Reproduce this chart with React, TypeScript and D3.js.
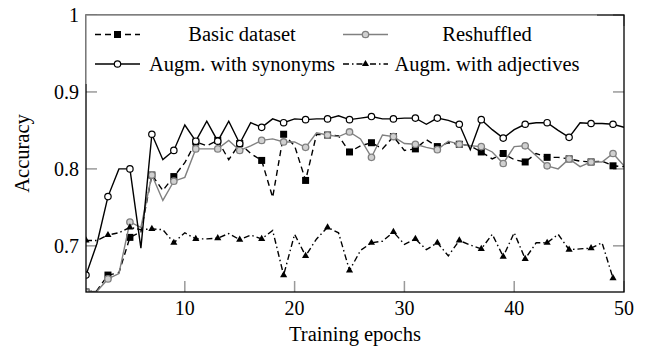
import React, { useEffect, useRef } from 'react'
import * as d3 from 'd3'

// epochs 1..50 (adjectives run stops at 49)
const epochs = [
	1, 2, 3, 4, 5, 6, 7, 8, 9, 10, 11, 12, 13, 14, 15, 16, 17, 18, 19, 20, 21, 22, 23, 24, 25,
	26, 27, 28, 29, 30, 31, 32, 33, 34, 35, 36, 37, 38, 39, 40, 41, 42, 43, 44, 45, 46, 47, 48, 49, 50,
]

const basic = [
	0.64, 0.642, 0.662, 0.665, 0.711, 0.718, 0.792, 0.772, 0.79, 0.808, 0.835, 0.83, 0.837, 0.812, 0.833,
	0.82, 0.811, 0.763, 0.845, 0.83, 0.785, 0.845, 0.844, 0.843, 0.822, 0.83, 0.834, 0.826, 0.842, 0.824,
	0.826, 0.838, 0.829, 0.834, 0.832, 0.83, 0.822, 0.813, 0.82, 0.812, 0.809, 0.82, 0.815, 0.815, 0.813,
	0.81, 0.809, 0.81, 0.804, 0.803,
]

const reshuffled = [
	0.64, 0.641, 0.657, 0.664, 0.731, 0.724, 0.792, 0.759, 0.784, 0.789, 0.826, 0.826, 0.826, 0.837, 0.824,
	0.83, 0.837, 0.839, 0.835, 0.835, 0.828, 0.847, 0.844, 0.842, 0.848, 0.839, 0.815, 0.844, 0.842, 0.833,
	0.832, 0.828, 0.825, 0.836, 0.832, 0.83, 0.829, 0.822, 0.807, 0.829, 0.83, 0.817, 0.804, 0.8, 0.813,
	0.803, 0.809, 0.809, 0.82, 0.804,
]

const synonyms = [
	0.662, 0.703, 0.764, 0.8, 0.8, 0.697, 0.845, 0.812, 0.824, 0.857, 0.836, 0.862, 0.836, 0.862, 0.833,
	0.86, 0.854, 0.865, 0.86, 0.865, 0.864, 0.865, 0.865, 0.869, 0.864, 0.866, 0.868, 0.865, 0.865, 0.866,
	0.866, 0.858, 0.866, 0.863, 0.858, 0.825, 0.864, 0.851, 0.84, 0.851, 0.858, 0.86, 0.86, 0.85, 0.841,
	0.86, 0.859, 0.859, 0.858, 0.854,
]

const adjectives = [
	0.707, 0.707, 0.714, 0.717, 0.724, 0.721, 0.722, 0.721, 0.704, 0.717, 0.709, 0.709, 0.71, 0.716, 0.708,
	0.714, 0.709, 0.72, 0.662, 0.715, 0.687, 0.709, 0.724, 0.717, 0.668, 0.694, 0.704, 0.706, 0.718, 0.702,
	0.709, 0.695, 0.704, 0.687, 0.707, 0.701, 0.696, 0.715, 0.686, 0.717, 0.683, 0.704, 0.704, 0.715, 0.695,
	0.696, 0.697, 0.704, 0.658,
]

const xTicks = [10, 20, 30, 40, 50]
const yTicks = [0.7, 0.8, 0.9, 1]

const legendNames = ['Basic dataset', 'Reshuffled', 'Augm. with synonyms', 'Augm. with adjectives']

const FONT = "'Liberation Serif', 'Times New Roman', Times, 'DejaVu Serif', serif"

type Series = {
	name: string
	values: number[]
	color: string
	dash: string | null
	marker: 'square' | 'circleGray' | 'circle' | 'triangle'
}

const series: Series[] = [
	{ name: legendNames[0], values: basic, color: '#000', dash: '6,4', marker: 'square' },
	{ name: legendNames[1], values: reshuffled, color: '#808080', dash: null, marker: 'circleGray' },
	{ name: legendNames[2], values: synonyms, color: '#000', dash: null, marker: 'circle' },
	{ name: legendNames[3], values: adjectives, color: '#000', dash: '6,3,1.5,3', marker: 'triangle' },
]

function drawMarker(g: any, kind: Series['marker'], x: number, y: number) {
	if (kind === 'square') {
		g.append('rect').attr('x', x - 3.5).attr('y', y - 3.5).attr('width', 7).attr('height', 7).attr('fill', '#000')
	} else if (kind === 'circleGray') {
		g.append('circle').attr('cx', x).attr('cy', y).attr('r', 3.2)
			.attr('fill', '#d0d0d0').attr('stroke', '#808080').attr('stroke-width', 1.3)
	} else if (kind === 'circle') {
		g.append('circle').attr('cx', x).attr('cy', y).attr('r', 3.2)
			.attr('fill', '#fff').attr('stroke', '#000').attr('stroke-width', 1.2)
	} else {
		const s = d3.symbol().type(d3.symbolTriangle).size(22)
		g.append('path').attr('d', s()).attr('transform', `translate(${x},${y})`).attr('fill', '#000')
	}
}

export default function App() {
	const ref = useRef<SVGSVGElement>(null)

	useEffect(() => {
		const svg = d3.select(ref.current)
		svg.selectAll('*').remove()

		const left = 86
		const right = 624
		const top = 15
		const bottom = 292

		const x = d3.scaleLinear().domain([1, 50]).range([left, right])
		const y = d3.scaleLinear().domain([0.64, 1]).range([bottom, top])

		svg.append('defs').append('clipPath').attr('id', 'plot-clip')
			.append('rect').attr('x', left).attr('y', top).attr('width', right - left).attr('height', bottom - top)

		// gray tick marks inside the frame
		const ticks = svg.append('g').attr('stroke', '#9a9a9a').attr('stroke-width', 1.5)
		xTicks.forEach((t) => {
			ticks.append('line').attr('x1', x(t)).attr('x2', x(t)).attr('y1', bottom).attr('y2', bottom - 11)
			ticks.append('line').attr('x1', x(t)).attr('x2', x(t)).attr('y1', top).attr('y2', top + 11)
		})
		yTicks.forEach((t) => {
			ticks.append('line').attr('x1', left).attr('x2', left + 11).attr('y1', y(t)).attr('y2', y(t))
			ticks.append('line').attr('x1', right).attr('x2', right - 11).attr('y1', y(t)).attr('y2', y(t))
		})

		// tick labels
		svg.append('g').selectAll('text').data(xTicks).enter().append('text')
			.attr('x', (d) => x(d)).attr('y', 315)
			.attr('text-anchor', 'middle').attr('font-size', 20)
			.text((d) => String(d))
		svg.append('g').selectAll('text').data(yTicks).enter().append('text')
			.attr('x', 79).attr('y', (d) => y(d) + 7)
			.attr('text-anchor', 'end').attr('font-size', 20)
			.text((d) => (d === 1 ? '1' : d.toFixed(1)))

		// data
		const plot = svg.append('g').attr('clip-path', 'url(#plot-clip)')
		series.forEach((s) => {
			const pts = s.values.map((v, i) => [epochs[i], v] as [number, number])
			const line = d3.line<[number, number]>().x((d) => x(d[0])).y((d) => y(d[1]))
			plot.append('path').attr('d', line(pts)).attr('fill', 'none')
				.attr('stroke', s.color).attr('stroke-width', 1.4)
				.attr('stroke-dasharray', s.dash)
			const mg = plot.append('g')
			pts.forEach((p, i) => {
				if (i % 2 === 0) drawMarker(mg, s.marker, x(p[0]), y(p[1]))
			})
		})

		// frame
		svg.append('rect').attr('x', left).attr('y', top).attr('width', right - left).attr('height', bottom - top)
			.attr('fill', 'none').attr('stroke', '#000').attr('stroke-width', 1.3)

		// legend: white box, only its top and left edges show
		const lg = svg.append('g')
		const lgRight = 597
		const lgBottom = 84
		lg.append('rect').attr('x', left).attr('y', top).attr('width', lgRight - left).attr('height', lgBottom - top)
			.attr('fill', '#fff')
		lg.append('path').attr('d', `M${left},${lgBottom}V${top}H${lgRight}`)
			.attr('fill', 'none').attr('stroke', '#8a8a8a').attr('stroke-width', 1.3)
		const cols = [
			{ lineX: 95, textX: 242 },
			{ lineX: 343, textX: 487 },
		]
		const rows = [34.5, 64]
		series.forEach((s, i) => {
			const c = cols[i % 2]
			const r = rows[Math.floor(i / 2)]
			lg.append('line').attr('x1', c.lineX).attr('x2', c.lineX + 45).attr('y1', r).attr('y2', r)
				.attr('stroke', s.color).attr('stroke-width', 1.4).attr('stroke-dasharray', s.dash)
			drawMarker(lg, s.marker, c.lineX + 22.5, r)
			lg.append('text').attr('x', c.textX).attr('y', r + 6.5)
				.attr('text-anchor', 'middle').attr('font-size', 20.5)
				.text(s.name)
		})

		// axis titles
		svg.append('text').attr('x', (left + right) / 2).attr('y', 341)
			.attr('text-anchor', 'middle').attr('font-size', 20.5)
			.text('Training epochs')
		svg.append('text').attr('transform', `translate(29, ${(top + bottom) / 2}) rotate(-90)`)
			.attr('text-anchor', 'middle').attr('font-size', 20.5)
			.text('Accuracy')
	}, [])

	return (
		<div style={{ position: 'fixed', left: 0, top: 0 }}>
			<svg
				ref={ref}
				width={648}
				height={353}
				style={{ display: 'block', background: '#fff', fontFamily: FONT }}
			/>
		</div>
	)
}
